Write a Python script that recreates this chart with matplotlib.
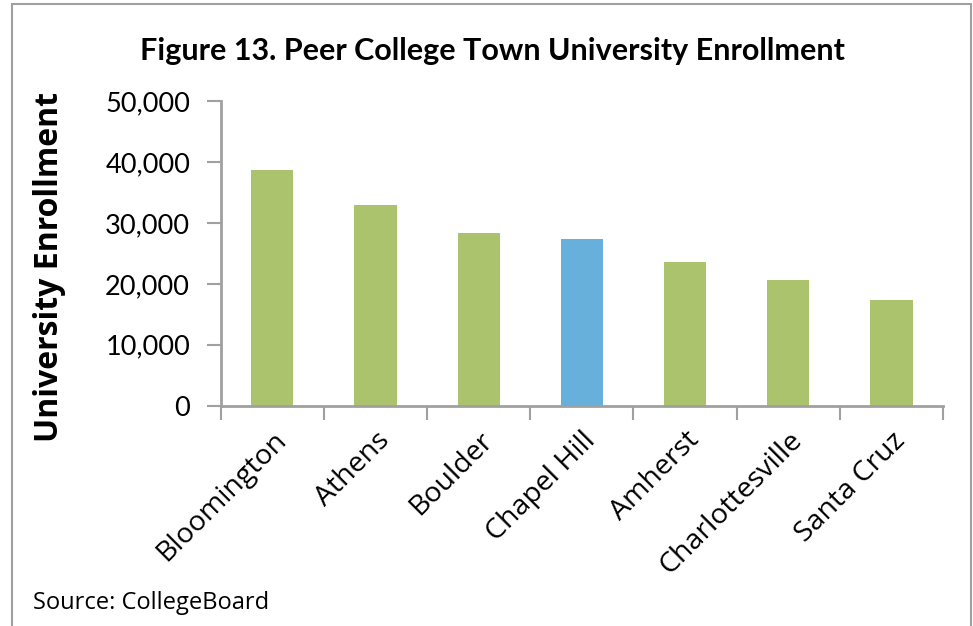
import matplotlib.pyplot as plt
from matplotlib.patches import Rectangle
from matplotlib.ticker import FuncFormatter, FixedLocator

towns = ['Bloomington', 'Athens', 'Boulder', 'Chapel Hill', 'Amherst',
         'Charlottesville', 'Santa Cruz']
enrollment = [38700, 33000, 28400, 27400, 23600, 20600, 17400]
highlight = 'Chapel Hill'

green = '#abc36c'
blue = '#68b0dc'
axis_gray = '#a0a0a0'

fig = plt.figure(figsize=(9.73, 6.26), dpi=100)
ax = fig.add_axes([0.2268, 0.3519, 0.7424, 0.4868])

colors = [blue if t == highlight else green for t in towns]
x = range(len(towns))
ax.bar(x, enrollment, width=0.41, color=colors, zorder=2)

ax.set_xlim(-0.5, len(towns) - 0.5)
ax.set_ylim(0, 50000)
ax.set_yticks(range(0, 50001, 10000))
ax.yaxis.set_major_formatter(FuncFormatter(lambda v, p: f'{int(v):,}'))

# category labels sit between the boundary tick marks
ax.set_xticks(list(x))
ax.set_xticklabels(towns, rotation=45, ha='right', rotation_mode='anchor',
                   fontsize=20.5, family='Open Sans')
ax.tick_params(axis='x', which='major', length=0, pad=15)
ax.xaxis.set_minor_locator(FixedLocator([i - 0.5 for i in range(len(towns) + 1)]))
ax.tick_params(axis='x', which='minor', length=10, width=1.5, color=axis_gray)

ax.tick_params(axis='y', length=10, width=1.5, color=axis_gray, pad=12,
               labelsize=19.5)
for lbl in ax.get_yticklabels():
    lbl.set_family('Lato')

for side in ['top', 'right']:
    ax.spines[side].set_visible(False)
for side in ['left', 'bottom']:
    ax.spines[side].set_color(axis_gray)
    ax.spines[side].set_linewidth(2)

fig.text(0.506, 0.918, 'Figure 13. Peer College Town University Enrollment',
         ha='center', va='center', fontsize=22, fontweight='bold', family='Lato')
fig.text(0.051, 0.573, 'University Enrollment', rotation=90, ha='center',
         va='center', fontsize=23, fontweight='bold', family='Open Sans')
fig.text(0.034, 0.036, 'Source: CollegeBoard', ha='left', va='center',
         fontsize=17, family='Open Sans')

# outer chart frame
fig.patches.append(Rectangle((0.0125, -0.05), 0.985, 1.044, transform=fig.transFigure,
                             fill=False, edgecolor=axis_gray, linewidth=1.5))

fig.savefig('out.png', dpi=100)
